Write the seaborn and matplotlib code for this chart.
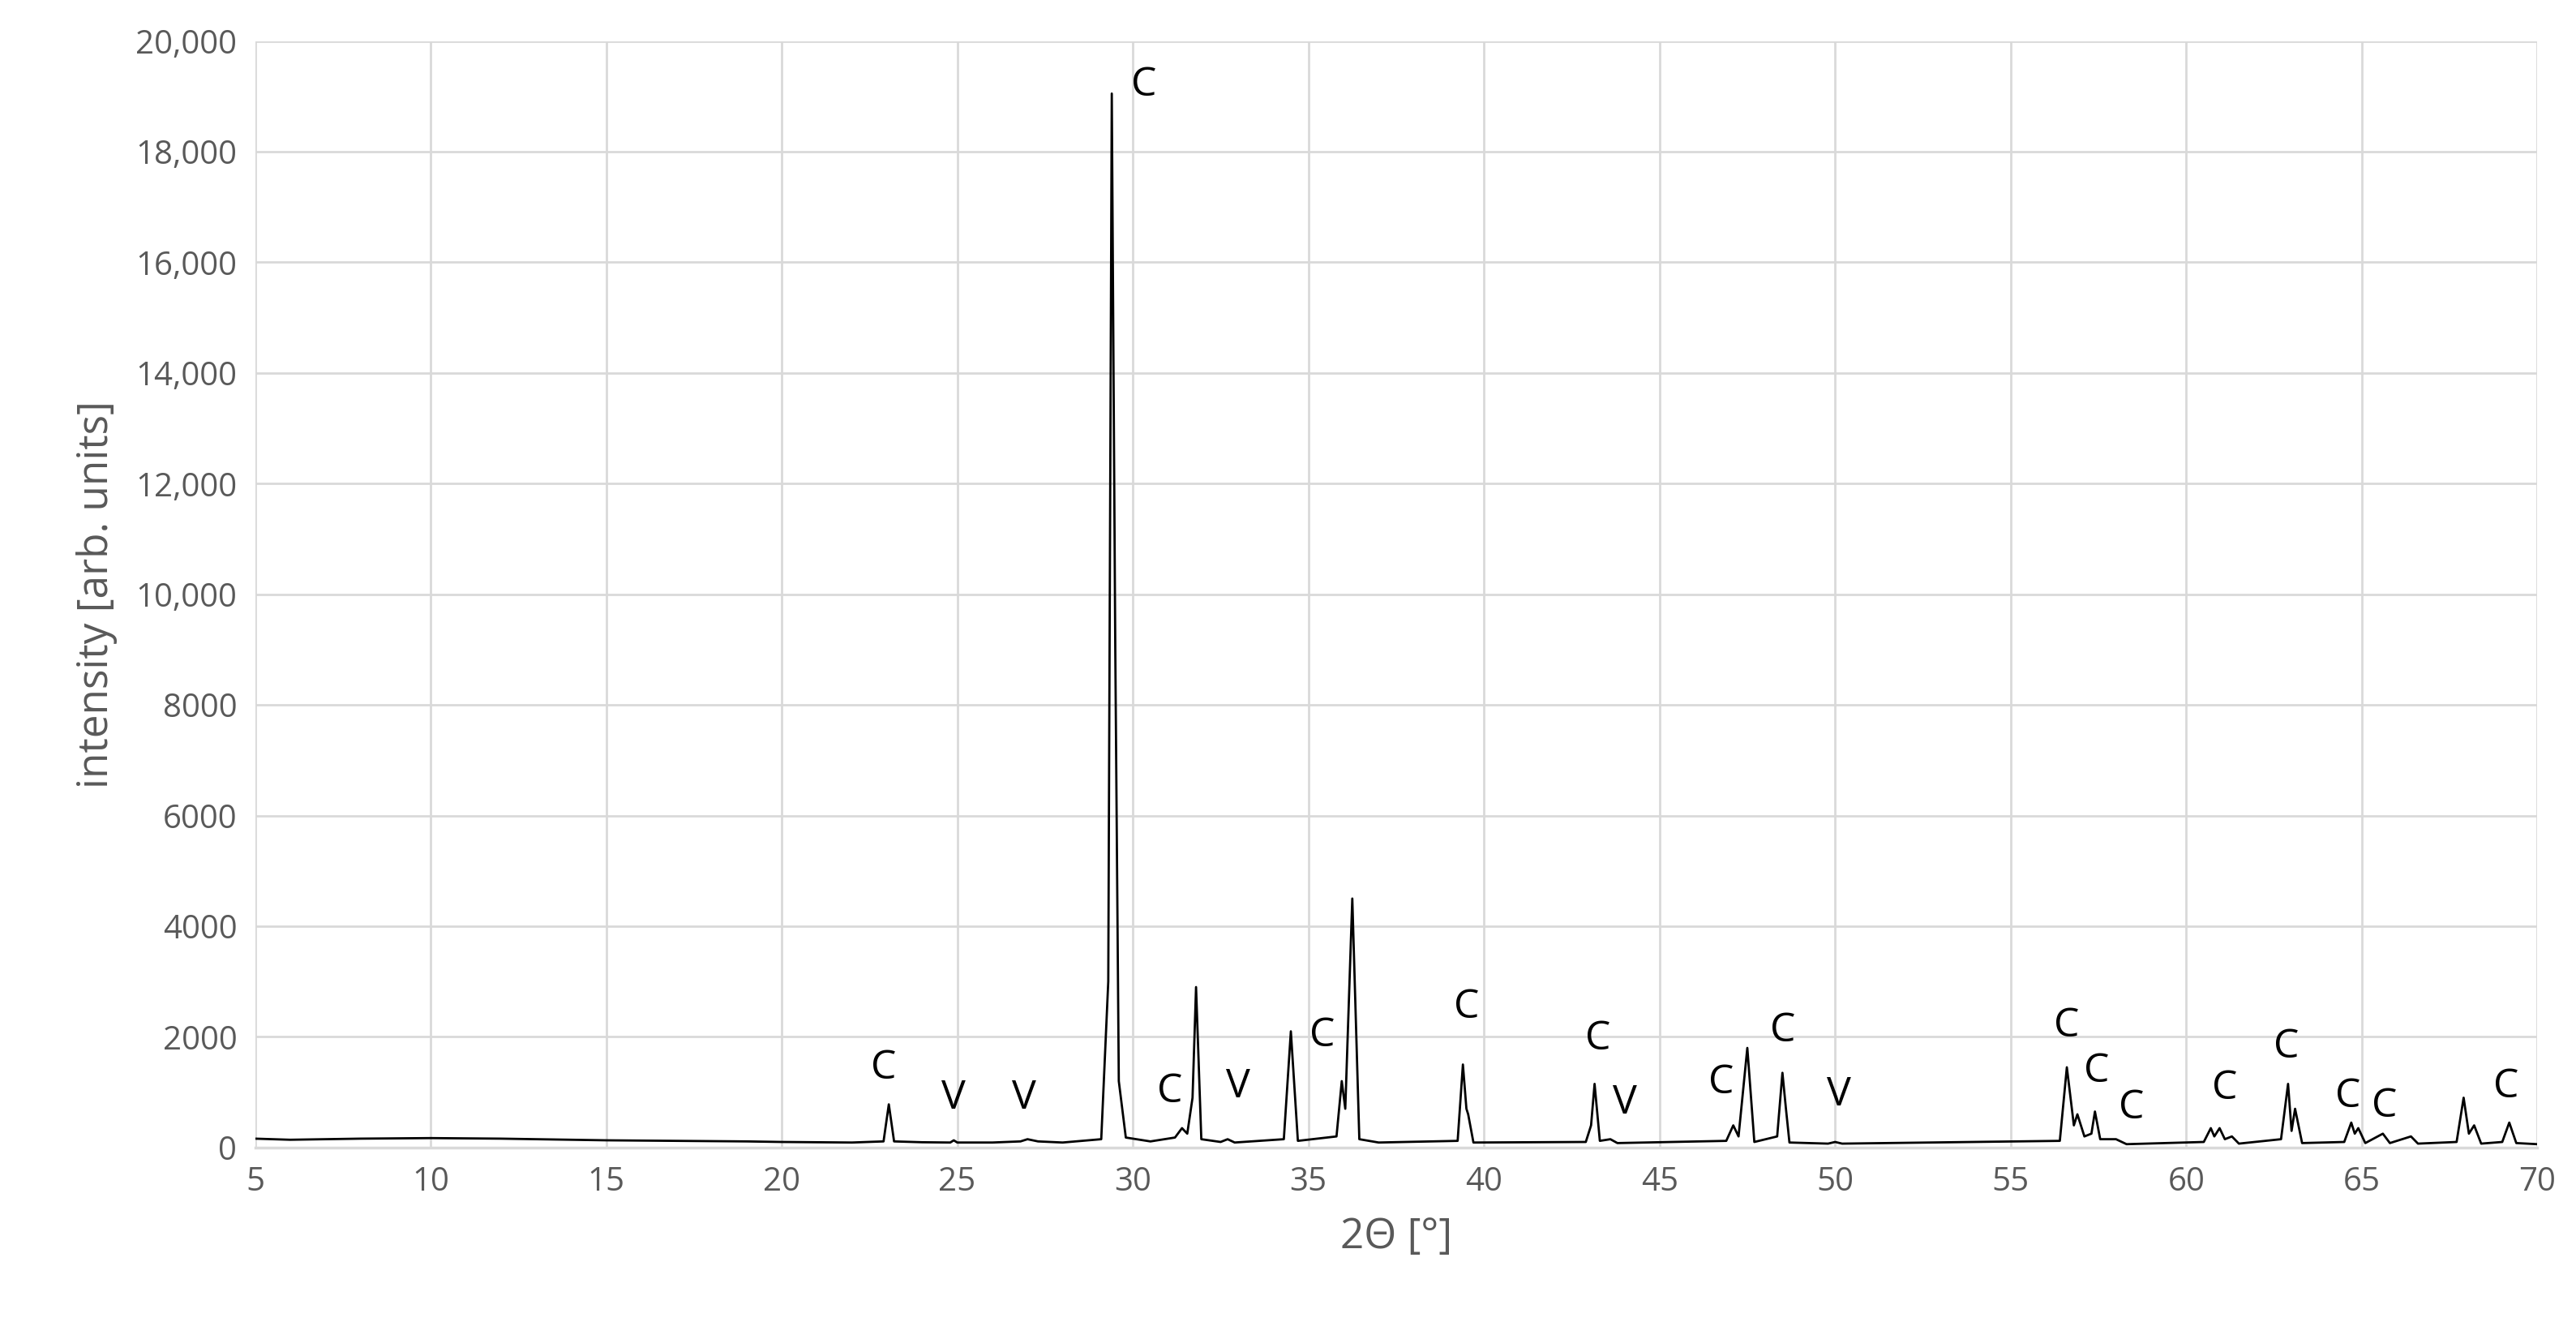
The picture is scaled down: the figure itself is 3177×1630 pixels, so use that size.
import matplotlib
matplotlib.use("Agg")
import matplotlib.pyplot as plt
import seaborn as sns
import pandas as pd

# trace (2theta, intensity)
trace_x = [5.0, 6, 7, 8, 9, 10, 11, 12, 13, 14, 15, 16, 17, 18, 19, 20, 21, 22, 22.9, 23.05, 23.2,
           24, 24.8, 24.9, 25.0, 26, 26.8, 27.0, 27.3, 28, 29.1, 29.3, 29.4, 29.5, 29.6, 29.8,
           30.5, 31.2, 31.4, 31.55, 31.7, 31.8, 31.95, 32.5, 32.7, 32.9, 34.3, 34.5, 34.7,
           35.8, 35.95, 36.05, 36.25, 36.45, 37, 39.25, 39.4, 39.5, 39.55, 39.7, 42.9, 43.05,
           43.15, 43.3, 43.6, 43.8, 46.9, 47.1, 47.25, 47.5, 47.7, 48.35, 48.5, 48.6, 48.7,
           49.8, 50.0, 50.2, 56.4, 56.6, 56.8, 56.9, 57.1, 57.3, 57.4, 57.55, 58.0, 58.3,
           60.5, 60.7, 60.8, 60.95, 61.1, 61.3, 61.5, 62.7, 62.9, 63.0, 63.1, 63.3, 64.5,
           64.7, 64.8, 64.9, 65.1, 65.6, 65.8, 66.4, 66.6, 67.7, 67.9, 68.05, 68.2, 68.4,
           69.0, 69.2, 69.4, 70.0]
trace_y = [160, 140, 150, 160, 165, 170, 165, 160, 150, 140, 130, 125, 120, 115, 110, 100, 95, 90, 110, 780, 110,
           95, 90, 130, 90, 90, 110, 150, 110, 90, 150, 3000, 19050, 9000, 1200, 180,
           110, 180, 350, 250, 900, 2900, 150, 100, 150, 90, 150, 2100, 120,
           200, 1200, 700, 4500, 150, 90, 120, 1500, 700, 600, 90, 100, 400,
           1150, 120, 150, 80, 120, 400, 200, 1800, 100, 200, 1350, 700, 90,
           70, 100, 70, 120, 1450, 400, 600, 200, 250, 650, 150, 150, 60,
           100, 350, 200, 350, 150, 200, 70, 150, 1150, 300, 700, 80, 100,
           450, 250, 350, 80, 250, 80, 200, 70, 100, 900, 250, 400, 70,
           100, 450, 80, 60]

label_text = ["C", "C", "V", "V", "C", "V", "C", "C", "C", "V", "C", "C", "V", "C", "C", "C", "C", "C", "C", "C", "C"]
label_x = [29.95, 22.9, 24.9, 26.9, 31.05, 33.0, 35.4, 39.5, 43.25, 44.0, 46.75, 48.5, 50.1, 56.6, 57.45, 58.45, 61.1, 62.85, 64.6, 65.65, 69.1]
label_y = [19200, 1430, 890, 890, 1010, 1100, 2020, 2530, 1960, 800, 1160, 2110, 950, 2200, 1370, 710, 1070, 1810, 920, 740, 1100]

xticks = list(range(5, 71, 5))
yticks = list(range(0, 20001, 2000))
ytick_labels = ["0", "2000", "4000", "6000", "8000", "10,000", "12,000", "14,000", "16,000", "18,000", "20,000"]

sns.set_theme(style="white")
plt.rcParams["font.family"] = ["Open Sans", "DejaVu Sans"]

fig = plt.figure(figsize=(15.885, 8.15), dpi=200)
ax = fig.add_axes([0.099, 0.132, 0.886, 0.837])
df = pd.DataFrame({"x": trace_x, "y": trace_y})
sns.lineplot(data=df, x="x", y="y", ax=ax, color="black", linewidth=1.0, sort=False)

ax.set_xlim(5, 70)
ax.set_ylim(0, 20000)
ax.set_xticks(xticks)
ax.set_yticks(yticks)
ax.set_yticklabels(ytick_labels)
ax.grid(True, color="#d9d9d9", linewidth=1.0)
ax.set_axisbelow(True)
for s in ["top", "right", "left"]:
    ax.spines[s].set_visible(False)
ax.spines["bottom"].set_color("#d9d9d9")
ax.tick_params(axis="both", colors="#595959", labelsize=14.5, length=0, pad=8)
ax.set_xlabel("2Θ [°]", fontsize=18.5, color="#595959", labelpad=8)
ax.set_ylabel("intensity [arb. units]", fontsize=18.5, color="#595959", labelpad=8)

for t, x, y in zip(label_text, label_x, label_y):
    ha = "left" if (x == 29.95) else "center"
    ax.text(x, y, t, fontsize=18, color="black", ha=ha, va="center")

fig.savefig("out.png", dpi=200)
